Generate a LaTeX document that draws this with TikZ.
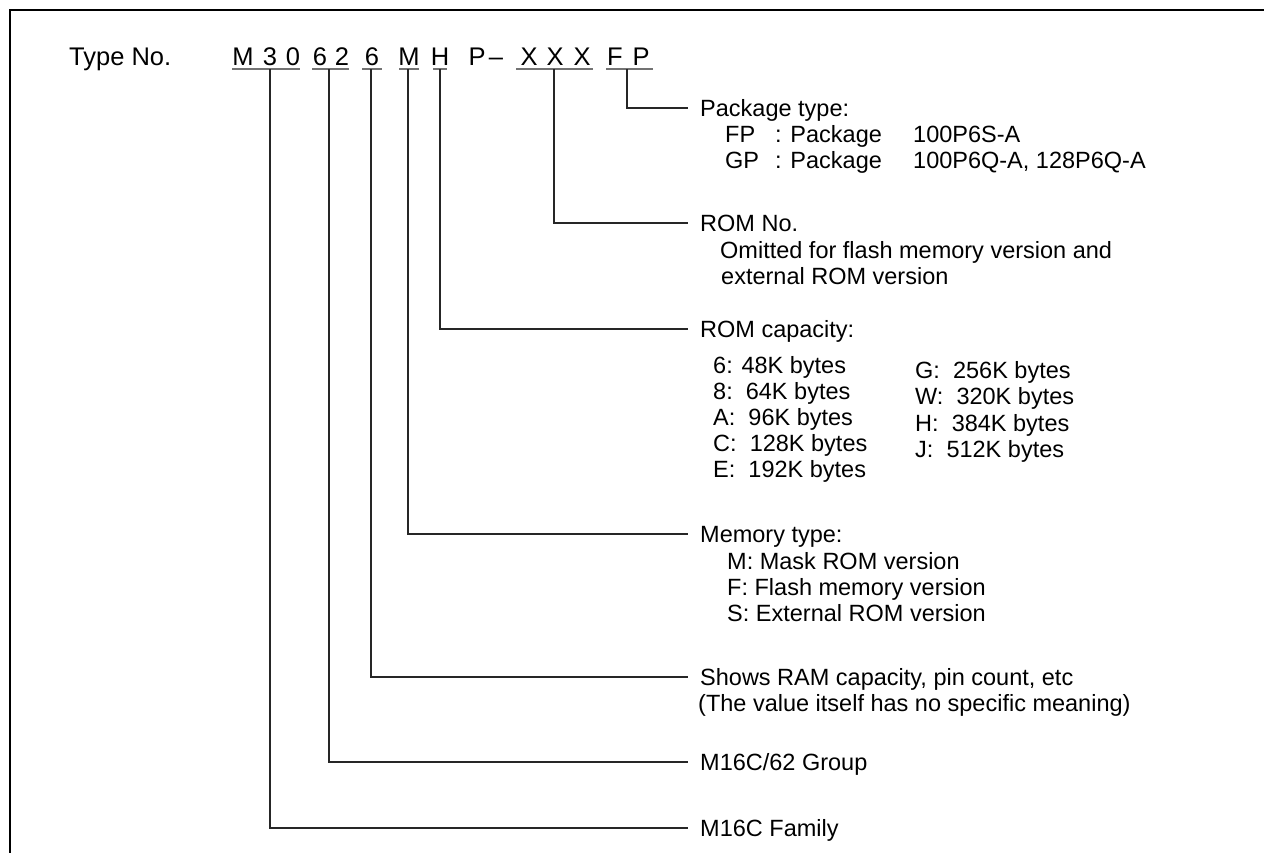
\documentclass[tikz,border=0pt]{standalone}
\usepackage{fontspec}
\setmainfont{Liberation Sans}
\begin{document}
\begin{tikzpicture}[x=1pt,y=-1pt,
  lbl/.style={anchor=west,inner sep=0pt,text height=17pt,text depth=0pt,font=\fontsize{23.5}{27}\selectfont},
  ch/.style={anchor=base,inner sep=0pt,font=\fontsize{25.5}{30}\selectfont},
  ul/.style={draw=black!55,line width=1.1pt},
  lead/.style={draw=black!85,line width=1.2pt},
  frame/.style={draw=black,line width=2.6pt}]
\useasboundingbox (0,0) rectangle (1264,852);
\draw[frame] (10,860) -- (10,10) -- (1270,10);
% type number
\node[ch,anchor=base west] (typeno) at (69,65) {Type No.};
\node[ch] (c1) at (243,65) {M};
\node[ch] (c2) at (270,65) {3};
\node[ch] (c3) at (293,65) {0};
\node[ch] (c4) at (320,65) {6};
\node[ch] (c5) at (342,65) {2};
\node[ch] (c6) at (372,65) {6};
\node[ch] (c7) at (409,65) {M};
\node[ch] (c8) at (440,65) {H};
\node[ch] (c9) at (477,65) {P};
\node[ch] (c10) at (496,65) {--};
\node[ch] (c11) at (529,65) {X};
\node[ch] (c12) at (555,65) {X};
\node[ch] (c13) at (582,65) {X};
\node[ch] (c14) at (615,65) {F};
\node[ch] (c15) at (641,65) {P};
% underlines
\draw[ul] (232,69) -- (300,69);
\draw[ul] (312,69) -- (349,69);
\draw[ul] (362,69) -- (382,69);
\draw[ul] (399,69) -- (419,69);
\draw[ul] (433,69) -- (447,69);
\draw[ul] (516,69) -- (593,69);
\draw[ul] (606,69) -- (653,69);
\coordinate (uA) at (270,69);
\coordinate (uB) at (329,69);
\coordinate (uC) at (371,69);
\coordinate (uD) at (408,69);
\coordinate (uE) at (440,69);
\coordinate (uF) at (554,69);
\coordinate (uG) at (627,69);
% labels
\node[lbl] (pkgT) at (700,108) {Package type:};
\node[lbl] (pkg1) at (725,134) {\makebox[50pt][l]{FP}\makebox[138pt][l]{: Package}100P6S-A};
\node[lbl] (pkg2) at (725,160) {\makebox[50pt][l]{GP}\makebox[138pt][l]{: Package}100P6Q-A, 128P6Q-A};
\node[lbl] (romT) at (700,223) {ROM No.};
\node[lbl] (rom1) at (720,250) {Omitted for flash memory version and};
\node[lbl] (rom2) at (721,276) {external ROM version};
\node[lbl] (capT) at (700,329) {ROM capacity:};
\node[lbl] (capa) at (713,365) {6: 48K bytes};
\node[lbl] (capb) at (713,391) {8:\ \ 64K bytes};
\node[lbl] (capc) at (713,417) {A:\ \ 96K bytes};
\node[lbl] (capd) at (713,443) {C:\ \ 128K bytes};
\node[lbl] (cape) at (713,469) {E:\ \ 192K bytes};
\node[lbl] (capf) at (915,370) {G:\ \ 256K bytes};
\node[lbl] (capg) at (915,396) {W:\ \ 320K bytes};
\node[lbl] (caph) at (915,423) {H:\ \ 384K bytes};
\node[lbl] (capi) at (915,449) {J:\ \ 512K bytes};
\node[lbl] (memT) at (700,534) {Memory type:};
\node[lbl] (mem1) at (727,561) {M: Mask ROM version};
\node[lbl] (mem2) at (727,587) {F: Flash memory version};
\node[lbl] (mem3) at (727,613) {S: External ROM version};
\node[lbl] (ramT) at (700,677) {Shows RAM capacity, pin count, etc};
\node[lbl] (ram1) at (698,703) {(The value itself has no specific meaning)};
\node[lbl] (grp) at (700,762) {M16C/62 Group};
\node[lbl] (fam) at (700,828) {M16C Family};
% leaders
\draw[lead] (uG) |- ([xshift=-12pt]pkgT.west);
\draw[lead] (uF) |- ([xshift=-12pt]romT.west);
\draw[lead] (uE) |- ([xshift=-12pt]capT.west);
\draw[lead] (uD) |- ([xshift=-12pt]memT.west);
\draw[lead] (uC) |- ([xshift=-12pt]ramT.west);
\draw[lead] (uB) |- ([xshift=-12pt]grp.west);
\draw[lead] (uA) |- ([xshift=-12pt]fam.west);
\end{tikzpicture}
\end{document}
